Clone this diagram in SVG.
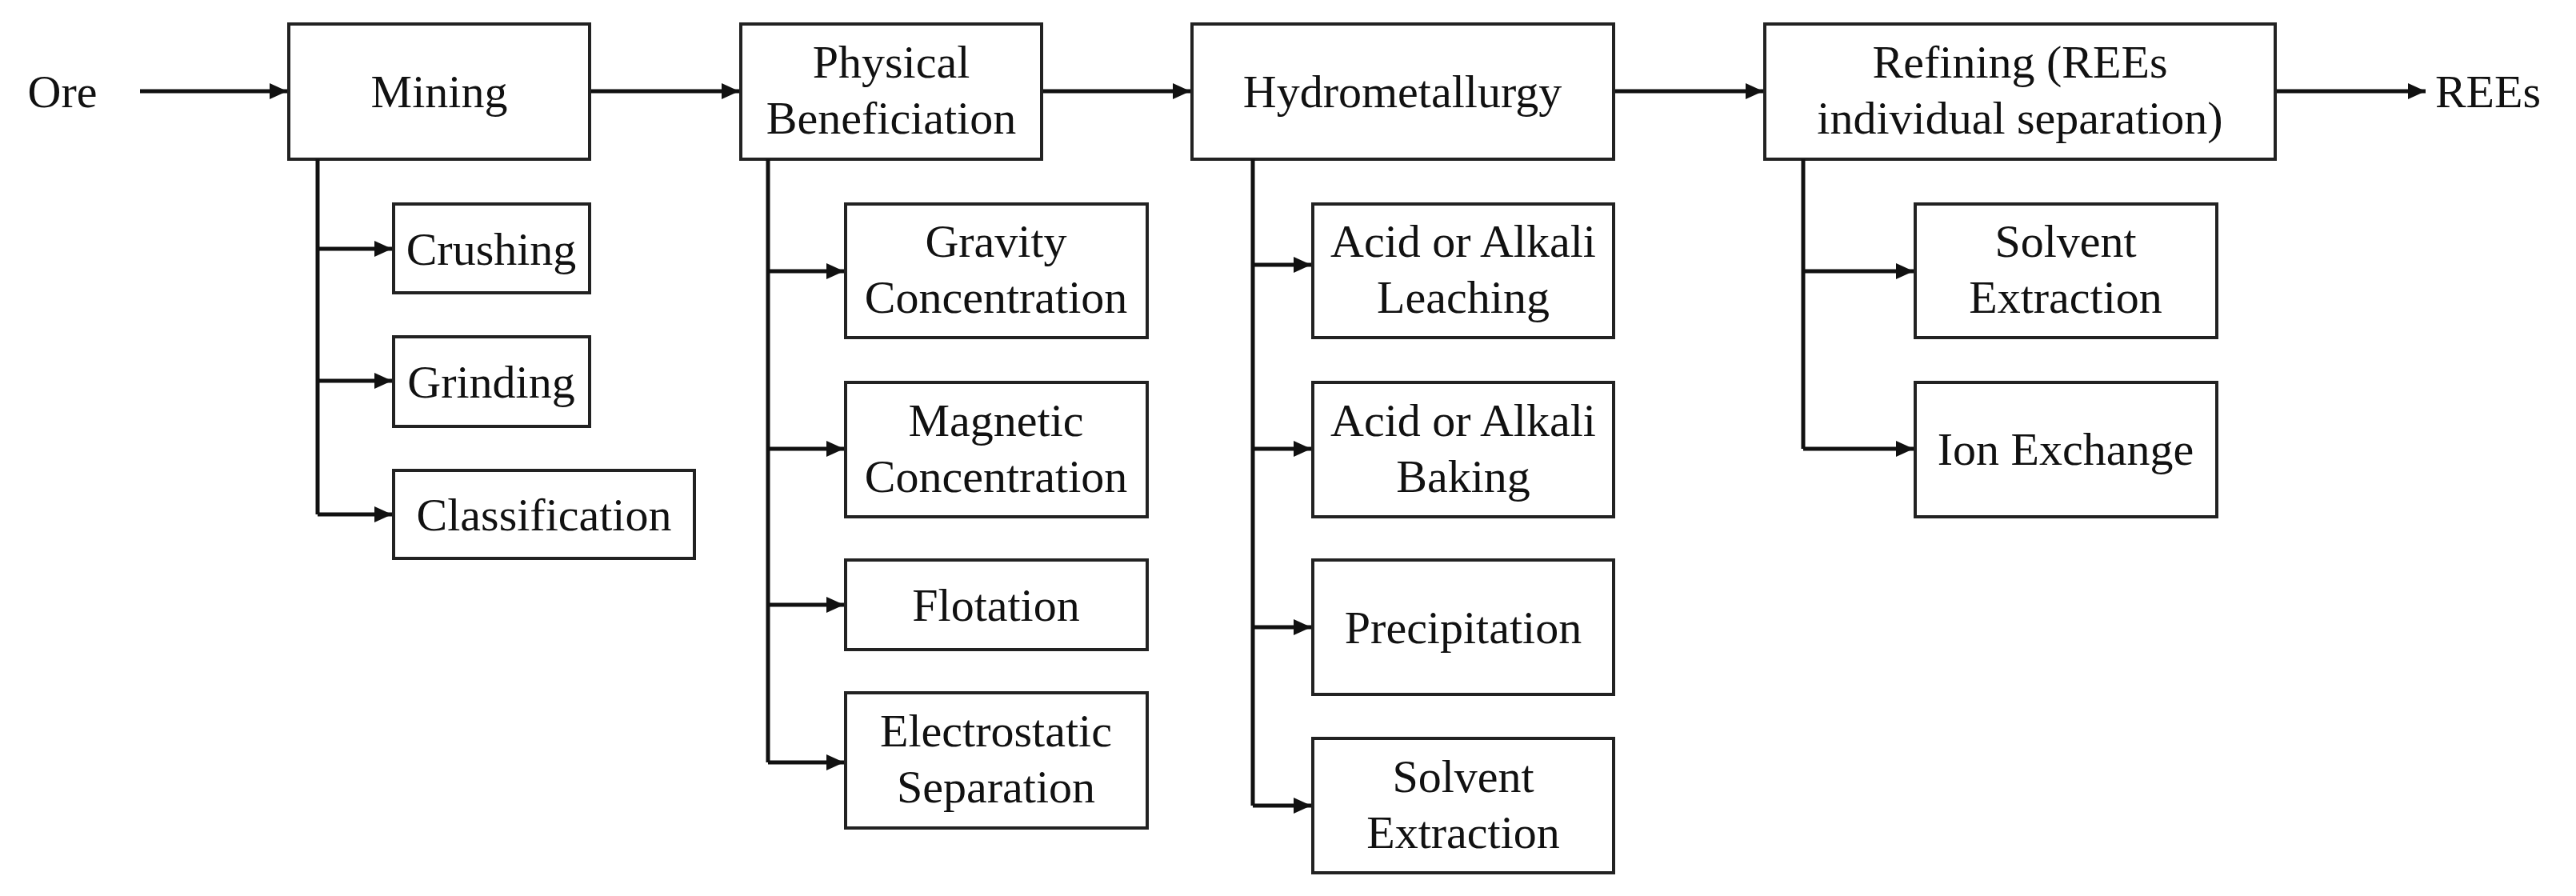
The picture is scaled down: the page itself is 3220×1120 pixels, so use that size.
<svg xmlns="http://www.w3.org/2000/svg" width="3220" height="1120" viewBox="0 0 3220 1120">
<defs>
<marker id="ah" markerUnits="userSpaceOnUse" markerWidth="24" markerHeight="20" refX="22" refY="10" orient="auto"><path d="M0,0 L22,10 L0,20 Z" fill="#111"/></marker>
</defs>
<style>
.b{fill:#fff;stroke:#222;stroke-width:4}
.t{font-family:"Liberation Serif","Times New Roman",serif;font-size:58px;fill:#111;text-anchor:middle}
.c{fill:none;stroke:#111;stroke-width:5}
.a{fill:none;stroke:#111;stroke-width:5;marker-end:url(#ah)}
</style>
<rect width="3220" height="1120" fill="#fff"/>
<text class="t" x="78" y="134">Ore</text>
<text class="t" x="3110" y="134">REEs</text>
<g id="mining"><rect class="b" x="361" y="30" width="376" height="169"/><text class="t" x="549" y="134">Mining</text></g>
<g id="physical"><rect class="b" x="926" y="30" width="376" height="169"/><text class="t" x="1114" y="97">Physical</text><text class="t" x="1114" y="167">Beneficiation</text></g>
<g id="hydro"><rect class="b" x="1490" y="30" width="527" height="169"/><text class="t" x="1753" y="134">Hydrometallurgy</text></g>
<g id="refining"><rect class="b" x="2206" y="30" width="638" height="169"/><text class="t" x="2525" y="97">Refining (REEs</text><text class="t" x="2525" y="167">individual separation)</text></g>
<g id="crushing"><rect class="b" x="492" y="255" width="245" height="111"/><text class="t" x="614" y="331">Crushing</text></g>
<g id="grinding"><rect class="b" x="492" y="421" width="245" height="112"/><text class="t" x="614" y="497">Grinding</text></g>
<g id="classification"><rect class="b" x="492" y="588" width="376" height="110"/><text class="t" x="680" y="663">Classification</text></g>
<g id="gravity"><rect class="b" x="1057" y="255" width="377" height="167"/><text class="t" x="1245" y="321">Gravity</text><text class="t" x="1245" y="391">Concentration</text></g>
<g id="magnetic"><rect class="b" x="1057" y="478" width="377" height="168"/><text class="t" x="1245" y="545">Magnetic</text><text class="t" x="1245" y="615">Concentration</text></g>
<g id="flotation"><rect class="b" x="1057" y="700" width="377" height="112"/><text class="t" x="1245" y="776">Flotation</text></g>
<g id="electrostatic"><rect class="b" x="1057" y="866" width="377" height="169"/><text class="t" x="1245" y="933">Electrostatic</text><text class="t" x="1245" y="1003">Separation</text></g>
<g id="leaching"><rect class="b" x="1641" y="255" width="376" height="167"/><text class="t" x="1829" y="321">Acid or Alkali</text><text class="t" x="1829" y="391">Leaching</text></g>
<g id="baking"><rect class="b" x="1641" y="478" width="376" height="168"/><text class="t" x="1829" y="545">Acid or Alkali</text><text class="t" x="1829" y="615">Baking</text></g>
<g id="precipitation"><rect class="b" x="1641" y="700" width="376" height="168"/><text class="t" x="1829" y="804">Precipitation</text></g>
<g id="hsolvent"><rect class="b" x="1641" y="923" width="376" height="168"/><text class="t" x="1829" y="990">Solvent</text><text class="t" x="1829" y="1060">Extraction</text></g>
<g id="rsolvent"><rect class="b" x="2394" y="255" width="377" height="167"/><text class="t" x="2582" y="321">Solvent</text><text class="t" x="2582" y="391">Extraction</text></g>
<g id="ion"><rect class="b" x="2394" y="478" width="377" height="168"/><text class="t" x="2582" y="581">Ion Exchange</text></g>
<g id="connectors">
<line class="a" x1="175" y1="114" x2="359" y2="114"/>
<line class="a" x1="739" y1="114" x2="924" y2="114"/>
<line class="a" x1="1304" y1="114" x2="1488" y2="114"/>
<line class="a" x1="2019" y1="114" x2="2204" y2="114"/>
<line class="a" x1="2846" y1="114" x2="3032" y2="114"/>
<path class="c" d="M397,199 V643"/>
<line class="a" x1="397" y1="311" x2="490" y2="311"/>
<line class="a" x1="397" y1="476" x2="490" y2="476"/>
<line class="a" x1="397" y1="643" x2="490" y2="643"/>
<path class="c" d="M960,199 V953"/>
<line class="a" x1="960" y1="339" x2="1055" y2="339"/>
<line class="a" x1="960" y1="561" x2="1055" y2="561"/>
<line class="a" x1="960" y1="756" x2="1055" y2="756"/>
<line class="a" x1="960" y1="953" x2="1055" y2="953"/>
<path class="c" d="M1566,199 V1007"/>
<line class="a" x1="1566" y1="331" x2="1639" y2="331"/>
<line class="a" x1="1566" y1="561" x2="1639" y2="561"/>
<line class="a" x1="1566" y1="784" x2="1639" y2="784"/>
<line class="a" x1="1566" y1="1007" x2="1639" y2="1007"/>
<path class="c" d="M2254,199 V561"/>
<line class="a" x1="2254" y1="339" x2="2392" y2="339"/>
<line class="a" x1="2254" y1="561" x2="2392" y2="561"/>
</g>
</svg>
